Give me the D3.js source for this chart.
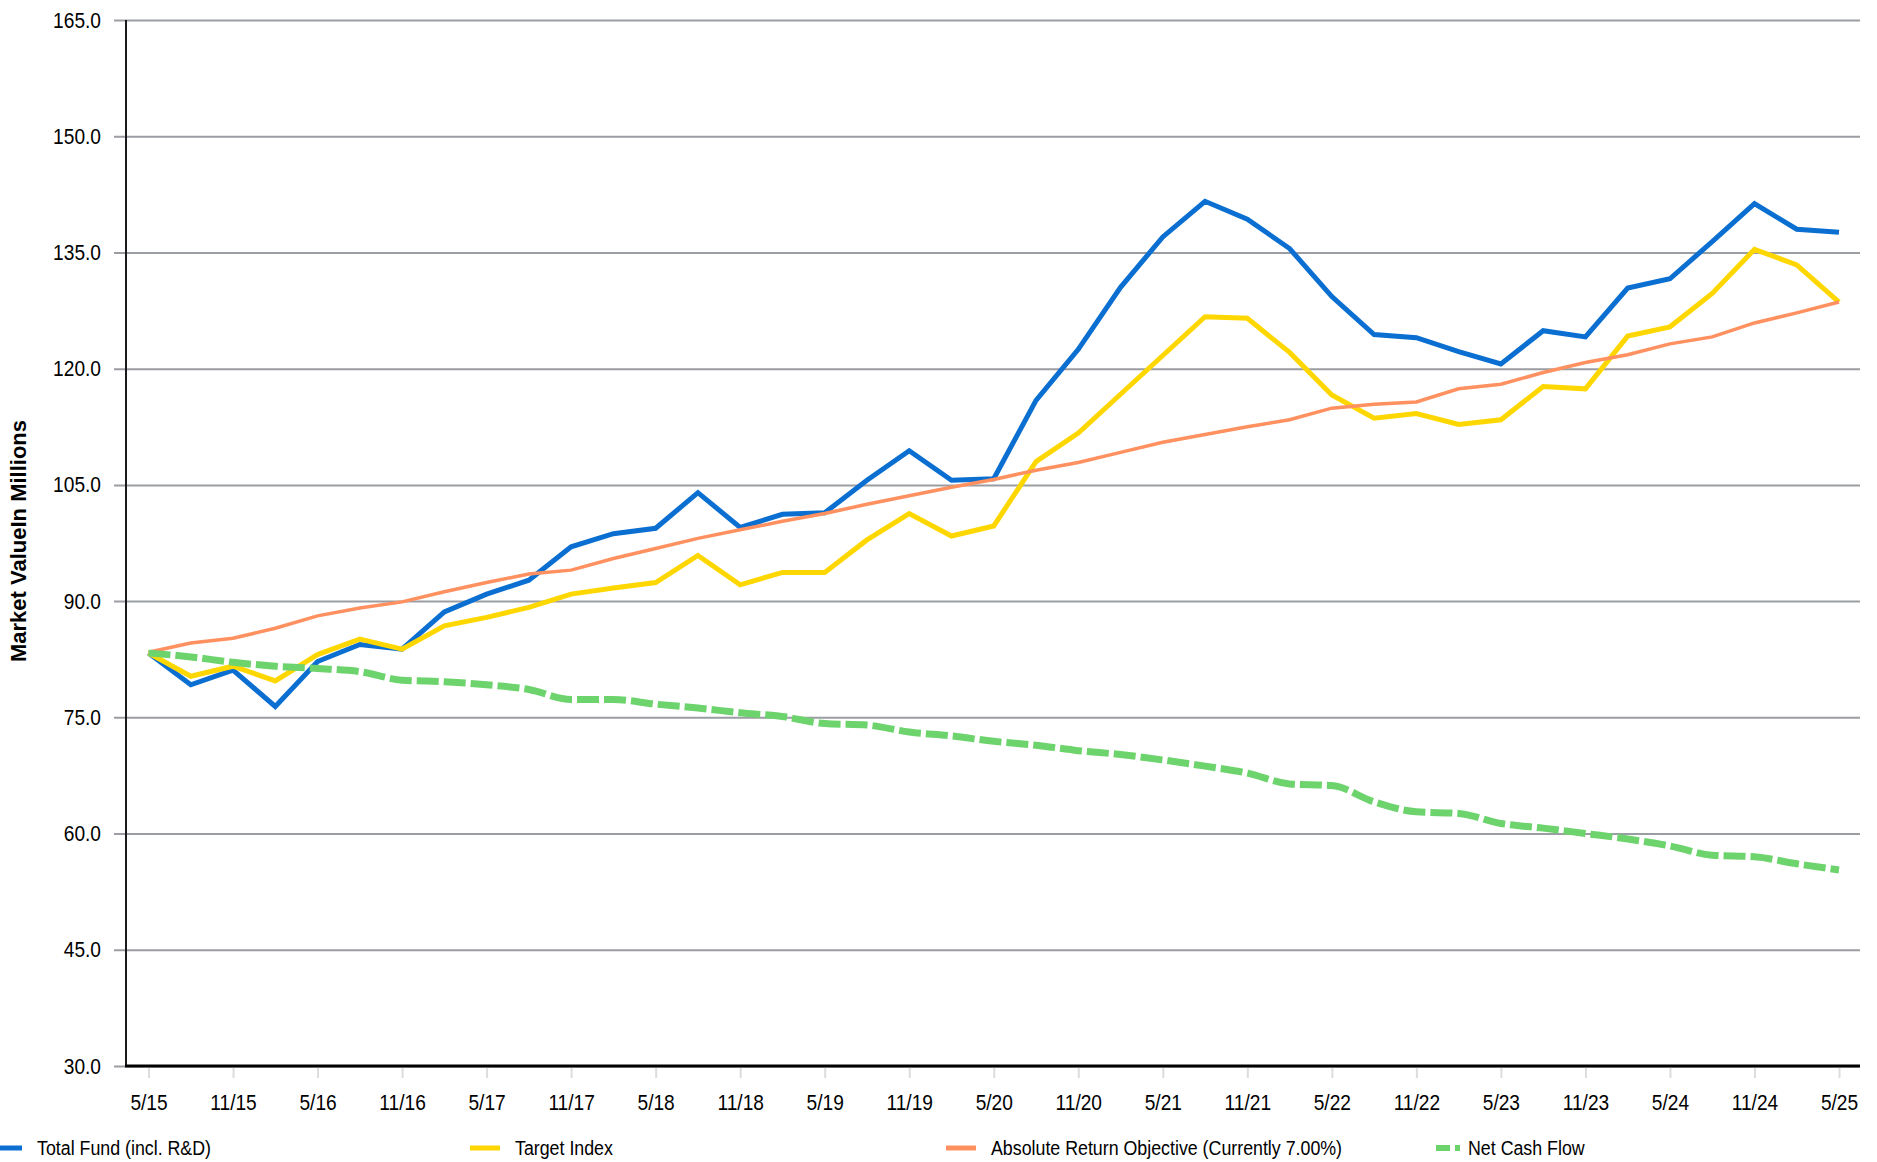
<!DOCTYPE html>
<html>
<head>
<meta charset="utf-8">
<script src="https://cdn.jsdelivr.net/npm/d3@7"></script>
<style>
  html, body { margin: 0; padding: 0; background: #fff; }
  svg { display: block; }
  text { font-family: "Liberation Sans", Arial, sans-serif; fill: #000; }
</style>
</head>
<body>
<script>
const quarters = ["5/15","8/15","11/15","2/16","5/16","8/16","11/16","2/17","5/17","8/17","11/17","2/18","5/18","8/18","11/18","2/19","5/19","8/19","11/19","2/20","5/20","8/20","11/20","2/21","5/21","8/21","11/21","2/22","5/22","8/22","11/22","2/23","5/23","8/23","11/23","2/24","5/24","8/24","11/24","2/25","5/25"];
const tickLabels = ["5/15","11/15","5/16","11/16","5/17","11/17","5/18","11/18","5/19","11/19","5/20","11/20","5/21","11/21","5/22","11/22","5/23","11/23","5/24","11/24","5/25"];
const yTicks = [30,45,60,75,90,105,120,135,150,165];

const totalFund = [83.3,79.2,81.1,76.4,82.2,84.4,83.8,88.6,90.9,92.7,97.0,98.7,99.4,104.0,99.5,101.2,101.4,105.6,109.4,105.6,105.8,115.9,122.5,130.5,137.0,141.6,139.3,135.5,129.3,124.4,124.0,122.2,120.6,124.9,124.1,130.4,131.6,136.4,141.3,138.0,137.6];
const targetIndex = [83.3,80.3,81.6,79.7,83.1,85.1,83.8,86.8,87.9,89.2,90.9,91.7,92.4,95.9,92.1,93.7,93.7,97.9,101.3,98.4,99.7,108.0,111.7,116.7,121.7,126.7,126.5,122.1,116.6,113.6,114.2,112.8,113.4,117.7,117.4,124.2,125.4,129.7,135.4,133.4,128.6];
const absoluteReturn = [83.4,84.6,85.2,86.5,88.1,89.1,89.9,91.2,92.4,93.5,94.0,95.5,96.8,98.1,99.2,100.3,101.3,102.5,103.6,104.7,105.7,106.9,107.9,109.2,110.5,111.5,112.5,113.4,114.9,115.4,115.7,117.4,118.0,119.5,120.8,121.8,123.2,124.1,125.9,127.2,128.6];
const netCashFlow = [83.3,82.8,82.1,81.6,81.3,80.9,79.8,79.6,79.2,78.6,77.3,77.3,76.7,76.2,75.6,75.1,74.2,74.0,73.1,72.6,71.9,71.4,70.7,70.2,69.5,68.7,67.8,66.4,66.2,64.1,62.8,62.6,61.3,60.7,60.0,59.3,58.4,57.2,57.0,56.1,55.3];

const seriesNames = ["Total Fund (incl. R&D)","Target Index","Absolute Return Objective (Currently 7.00%)","Net Cash Flow"];
const yTitle = "Market ValueIn Millions";

const W = 1877, H = 1162;
const plot = { left: 126, right: 1860, top: 20, bottom: 1066 };
const NARROW = 0.87;

const svg = d3.select("body").append("svg").attr("width", W).attr("height", H);

const x = d3.scalePoint().domain(quarters).range([148.5, 1839]);
const y = d3.scaleLinear().domain([30, 165]).range([plot.bottom, plot.top]);

// grid lines (as y axis ticks extending left of the axis)
const yAxis = d3.axisLeft(y).tickValues(yTicks).tickFormat(d3.format(".1f"))
  .tickSize(-(plot.right - plot.left + 12));
const gy = svg.append("g").attr("transform", `translate(${plot.left - 12},0)`).call(yAxis);
gy.select(".domain").remove();
gy.selectAll(".tick line").attr("stroke", "#9a9da1").attr("stroke-width", 2);
gy.selectAll(".tick text").attr("font-size", 22).attr("x", null)
  .attr("transform", `translate(-13,0) scale(${NARROW},1)`);

// y axis line
svg.append("line").attr("x1", plot.left).attr("x2", plot.left)
  .attr("y1", plot.top).attr("y2", plot.bottom).attr("stroke", "#1a1a1a").attr("stroke-width", 2);

// x axis
const xAxis = d3.axisBottom(x).tickValues(tickLabels).tickSize(12).tickPadding(12);
const gx = svg.append("g").attr("transform", `translate(0,${plot.bottom})`).call(xAxis);
gx.select(".domain").remove();
gx.selectAll(".tick line").attr("stroke", "#dcdcdc").attr("stroke-width", 2);
gx.selectAll(".tick text").attr("font-size", 22).attr("dy", "0.9em")
  .attr("transform", `scale(${NARROW},1)`);
svg.append("line").attr("x1", plot.left - 1).attr("x2", plot.right)
  .attr("y1", plot.bottom).attr("y2", plot.bottom).attr("stroke", "#000").attr("stroke-width", 3);

// y title
svg.append("text")
  .attr("transform", `translate(26,${(plot.top + plot.bottom) / 2 - 2}) rotate(-90)`)
  .attr("text-anchor", "middle").attr("font-weight", "bold").attr("font-size", 22)
  .text(yTitle);

const styles = [
  { data: totalFund, color: "#0a6fd1", width: 5, dash: null, curve: d3.curveLinear },
  { data: targetIndex, color: "#ffd700", width: 5, dash: null, curve: d3.curveLinear },
  { data: absoluteReturn, color: "#ff9060", width: 3.5, dash: null, curve: d3.curveLinear },
  { data: netCashFlow, color: "#6dd46d", width: 7, dash: "22,5", curve: d3.curveMonotoneX }
];

styles.forEach(s => {
  const line = d3.line().x((d, i) => x(quarters[i])).y(d => y(d)).curve(s.curve);
  svg.append("path").datum(s.data).attr("d", line)
    .attr("fill", "none").attr("stroke", s.color).attr("stroke-width", s.width)
    .attr("stroke-dasharray", s.dash).attr("stroke-linejoin", "miter");
});

// legend
const legendX = [-8, 470, 946, 1436];
const legendY = 1148;
const lg = svg.append("g");
styles.forEach((s, i) => {
  const g = lg.append("g").attr("transform", `translate(${legendX[i]},${legendY})`);
  if (s.dash) {
    g.append("line").attr("x1", 0).attr("x2", 14).attr("y1", 0).attr("y2", 0)
      .attr("stroke", s.color).attr("stroke-width", 6);
    g.append("line").attr("x1", 19).attr("x2", 24).attr("y1", 0).attr("y2", 0)
      .attr("stroke", s.color).attr("stroke-width", 6);
  } else {
    g.append("line").attr("x1", 0).attr("x2", 30).attr("y1", 0).attr("y2", 0)
      .attr("stroke", s.color).attr("stroke-width", 5);
  }
  g.append("text").attr("dy", "0.35em").attr("font-size", 20)
    .attr("transform", `translate(${s.dash ? 32 : 45},0) scale(0.89,1)`)
    .text(seriesNames[i]);
});
</script>
</body>
</html>
